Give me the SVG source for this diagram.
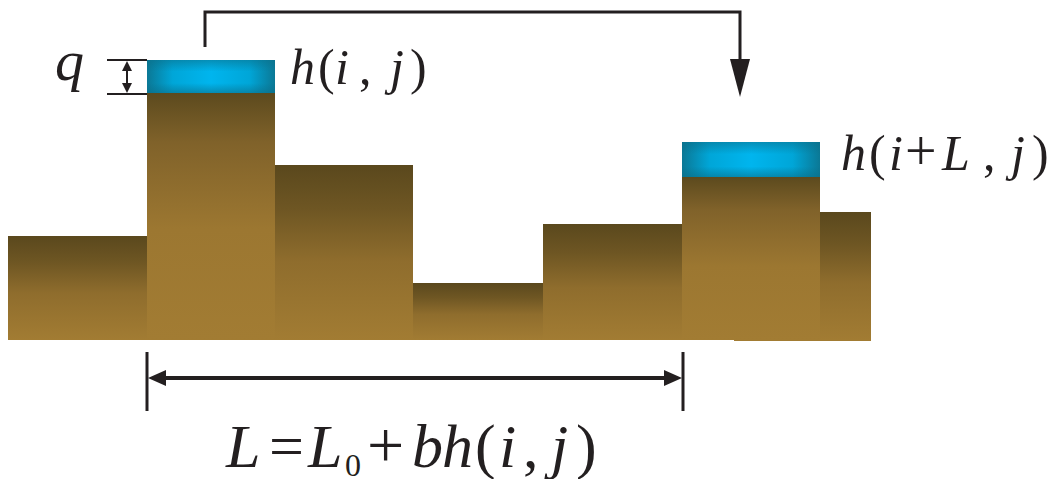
<svg xmlns="http://www.w3.org/2000/svg" width="1056" height="479" viewBox="0 0 1056 479">
<style>
.t{font-family:"Liberation Serif","Times New Roman",serif;fill:#231f20}
.it{font-style:italic}
.ln{stroke:#231f20;fill:none}
.ah{fill:#231f20}
</style>
<defs>
<linearGradient id="soil" x1="0" y1="0" x2="0" y2="1">
<stop offset="0" stop-color="#5a481d"/>
<stop offset="0.25" stop-color="#6e5623"/>
<stop offset="0.55" stop-color="#8f6d2d"/>
<stop offset="1" stop-color="#a27c33"/>
</linearGradient>
<linearGradient id="soilTall" x1="0" y1="0" x2="0" y2="1">
<stop offset="0" stop-color="#5c4a1e"/>
<stop offset="0.2" stop-color="#80622a"/>
<stop offset="0.55" stop-color="#9c7731"/>
<stop offset="1" stop-color="#a27c33"/>
</linearGradient>
<linearGradient id="waterH" x1="0" y1="0" x2="1" y2="0">
<stop offset="0" stop-color="#0b7895"/>
<stop offset="0.2" stop-color="#00a6d8"/>
<stop offset="0.5" stop-color="#00b5ee"/>
<stop offset="0.8" stop-color="#00a6d8"/>
<stop offset="1" stop-color="#0b7895"/>
</linearGradient>
<linearGradient id="waterV" x1="0" y1="0" x2="0" y2="1">
<stop offset="0" stop-color="#0a6f8a" stop-opacity="0.55"/>
<stop offset="0.35" stop-color="#0a6f8a" stop-opacity="0"/>
<stop offset="0.7" stop-color="#0a6f8a" stop-opacity="0"/>
<stop offset="1" stop-color="#0a6f8a" stop-opacity="0.6"/>
</linearGradient>
<marker id="bigHead" markerUnits="userSpaceOnUse" markerWidth="38" markerHeight="20" refX="0" refY="10" orient="auto" viewBox="0 0 38 20">
<path d="M0,0 L38,10 L0,20 Z" class="ah"/>
</marker>
<marker id="dimHead" markerUnits="userSpaceOnUse" markerWidth="18" markerHeight="16" refX="0" refY="8" orient="auto-start-reverse" viewBox="0 0 18 16">
<path d="M0,0 L18,8 L0,16 Z" class="ah"/>
</marker>
<marker id="qHead" markerUnits="userSpaceOnUse" markerWidth="10" markerHeight="10" refX="0" refY="5" orient="auto-start-reverse" viewBox="0 0 10 10">
<path d="M0,0 L10,5 L0,10 Z" class="ah"/>
</marker>
</defs>
<rect width="1056" height="479" fill="#ffffff"/>

<g id="terrain">
<rect id="col1" x="8" y="236" width="139" height="104" fill="url(#soil)"/>
<rect id="col2" x="147" y="93" width="128" height="247" fill="url(#soilTall)"/>
<rect id="col3" x="275" y="165" width="138" height="175" fill="url(#soil)"/>
<rect id="col4" x="413" y="283" width="130" height="57" fill="url(#soil)"/>
<rect id="col5" x="543" y="224" width="139" height="116" fill="url(#soil)"/>
<rect id="col6" x="682" y="177" width="138" height="163" fill="url(#soilTall)"/>
<rect id="col7" x="820" y="212" width="51" height="129" fill="url(#soil)"/>
<rect x="734" y="339" width="137" height="2" fill="#a27c33"/>
</g>

<g id="water1">
<rect x="147" y="60" width="128" height="33" fill="url(#waterH)"/>
<rect x="147" y="60" width="128" height="33" fill="url(#waterV)"/>
</g>
<g id="water2">
<rect x="682" y="142" width="138" height="35" fill="url(#waterH)"/>
<rect x="682" y="142" width="138" height="35" fill="url(#waterV)"/>
</g>

<g id="connectors">
<path class="ln" stroke-width="3" d="M205,47 V12 H740 V59" marker-end="url(#bigHead)"/>
<line class="ln" stroke-width="2" x1="107" y1="60" x2="147" y2="60"/>
<line class="ln" stroke-width="2" x1="107" y1="94" x2="147" y2="94"/>
<line class="ln" stroke-width="2" x1="127" y1="71" x2="127" y2="83" marker-start="url(#qHead)" marker-end="url(#qHead)"/>
<line class="ln" stroke-width="3" x1="147" y1="352" x2="147" y2="411"/>
<line class="ln" stroke-width="3" x1="683" y1="352" x2="683" y2="411"/>
<line class="ln" stroke-width="4" x1="166" y1="378" x2="664" y2="378" marker-start="url(#dimHead)" marker-end="url(#dimHead)"/>
</g>

<g id="label-q">
<text class="t it" x="55" y="80" font-size="58">q</text>
</g>
<g id="label-h1">
<text class="t" y="84" font-size="50"><tspan class="it" x="290">h</tspan><tspan x="318">(</tspan><tspan class="it" x="335">i</tspan><tspan x="359">,</tspan><tspan class="it" x="390">j</tspan><tspan x="410">)</tspan></text>
</g>
<g id="label-h2">
<text class="t" y="170" font-size="50"><tspan class="it" x="841">h</tspan><tspan x="869">(</tspan><tspan class="it" x="889">i</tspan><tspan x="905" font-size="56">+</tspan><tspan class="it" x="942" font-size="50">L</tspan><tspan x="983">,</tspan><tspan class="it" x="1011">j</tspan><tspan x="1032">)</tspan></text>
</g>
<g id="label-formula">
<text class="t" y="467" font-size="62"><tspan class="it" x="226">L</tspan><tspan x="269">=</tspan><tspan class="it" x="308">L</tspan><tspan x="345" y="476" font-size="32">0</tspan><tspan x="367" y="467" font-size="66">+</tspan><tspan class="it" x="412" font-size="62">b</tspan><tspan class="it" x="442">h</tspan><tspan x="475">(</tspan><tspan class="it" x="499">i</tspan><tspan x="523">,</tspan><tspan class="it" x="551">j</tspan><tspan x="576">)</tspan></text>
</g>
</svg>
